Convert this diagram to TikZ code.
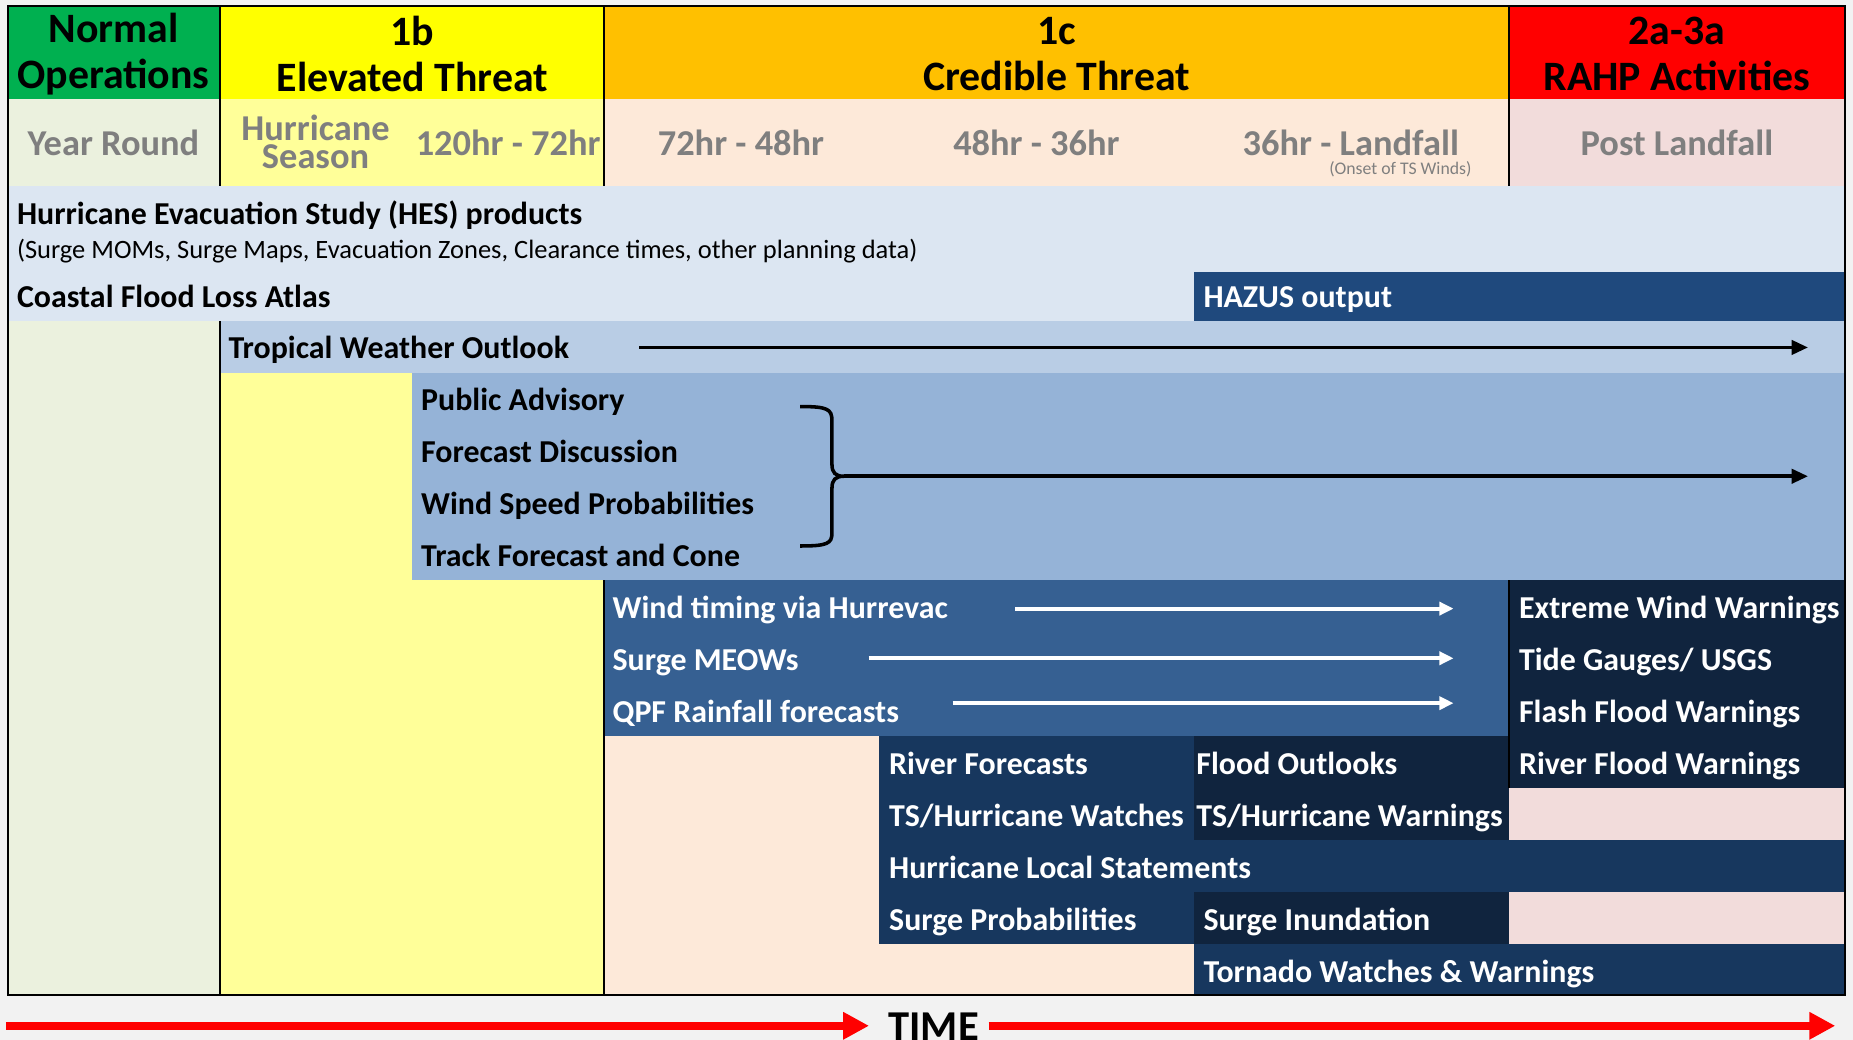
\documentclass[tikz,border=0pt]{standalone}
\usepackage{fontspec}
\setmainfont{Carlito}
\usetikzlibrary{calc, positioning, arrows.meta}

\definecolor{opsgreen}{HTML}{00B050}
\definecolor{opsgreenlt}{HTML}{EBF1DE}
\definecolor{elevyellow}{HTML}{FFFF00}
\definecolor{elevyellowlt}{HTML}{FFFF99}
\definecolor{credorange}{HTML}{FFC000}
\definecolor{credorangelt}{HTML}{FDE9D9}
\definecolor{rahpred}{HTML}{FF0000}
\definecolor{rahpredlt}{HTML}{F2DCDB}
\definecolor{hesblue}{HTML}{DCE6F2}
\definecolor{twoblue}{HTML}{B9CDE5}
\definecolor{advblue}{HTML}{95B3D7}
\definecolor{midblue}{HTML}{366092}
\definecolor{hazblue}{HTML}{1F497D}
\definecolor{deepblue}{HTML}{17375E}
\definecolor{nightblue}{HTML}{10243E}
\definecolor{subgray}{HTML}{7F7F7F}
\definecolor{backgray}{HTML}{F2F2F2}

\begin{document}
\begin{tikzpicture}[
	x=0.5pt, y=-0.5pt,
	headtext/.style={align=center, inner sep=0pt, font=\fontsize{17.7}{19.5}\selectfont\bfseries},
	subtext/.style={align=center, inner sep=0pt, text=subgray, font=\fontsize{15.4}{11.5}\selectfont\bfseries},
	rowtext/.style={anchor=west, inner sep=0pt, yshift=-1.7pt, text height=1.5ex, text depth=.3ex, font=\fontsize{13.5}{15}\selectfont\bfseries},
	lighttext/.style={rowtext, text=white},
	gridline/.style={line width=0.9pt, black},
	darkarrow/.style={-{Triangle[length=7pt, width=6pt]}, line width=1.6pt, black},
	lightarrow/.style={-{Triangle[length=6pt, width=5.5pt]}, line width=1.6pt, white},
	timearrow/.style={-{Triangle[length=11pt, width=11pt]}, line width=3.5pt, color=rahpred}
	]
	
	% Page and column backgrounds
	\fill [backgray] (0,0) rectangle (1568,880);
	\useasboundingbox (0,0) rectangle (1568,880);
	\fill [opsgreenlt] (7,84) rectangle (186,842);
	\fill [elevyellowlt] (186,84) rectangle (511,842);
	\fill [credorangelt] (511,84) rectangle (1277,842);
	\fill [rahpredlt] (1277,84) rectangle (1561,842);
	
	% Stage headers
	\fill [opsgreen] (7,5) rectangle (186,84);
	\fill [elevyellow] (186,5) rectangle (511,84);
	\fill [credorange] (511,5) rectangle (1277,84);
	\fill [rahpred] (1277,5) rectangle (1561,84);
	
	% Product bands
	\fill [hesblue] (7,157) rectangle (1561,272);
	\fill [hazblue] (1010,230) rectangle (1561,272);
	\fill [twoblue] (186,272) rectangle (1561,316);
	\fill [advblue] (349,316) rectangle (1561,491);
	\fill [midblue] (511,491) rectangle (1277,623);
	\fill [nightblue] (1277,491) rectangle (1561,667);
	\fill [deepblue] (744,623) rectangle (1010,711);
	\fill [nightblue] (1010,623) rectangle (1277,711);
	\fill [deepblue] (744,711) rectangle (1561,755);
	\fill [deepblue] (744,755) rectangle (1010,799);
	\fill [nightblue] (1010,755) rectangle (1277,799);
	\fill [deepblue] (1010,799) rectangle (1561,842);
	
	% Grid lines
	\draw [gridline] (7,5) rectangle (1561,842);
	\draw [gridline] (186,5) -- (186,157) (186,272) -- (186,842);
	\draw [gridline] (511,5) -- (511,157) (511,491) -- (511,842);
	\draw [gridline] (1277,5) -- (1277,157) (1277,491) -- (1277,667);
	
	% Header texts
	\node (hdrnormal) [headtext] at (96,46) {Normal\\Operations};
	\node (hdrelev) [headtext] at (349,46) {1b\\Elevated Threat};
	\node (hdrcred) [headtext] at (894,46) {1c\\Credible Threat};
	\node (hdrrahp) [headtext] at (1419,46) {2a-3a\\RAHP Activities};
	
	\node (subyear) [subtext] at (96,121) {Year Round};
	\node (subseason) [subtext] at (267,120) {Hurricane\\Season};
	\node (sub120) [subtext] at (430,121) {120hr - 72hr};
	\node (sub72) [subtext] at (627,121) {72hr - 48hr};
	\node (sub48) [subtext] at (877,121) {48hr - 36hr};
	\node (sub36) [subtext] at (1143,121) {36hr - Landfall};
	\node (subonset) [subtext, font=\fontsize{7.5}{8}\selectfont] at (1185,143) {(Onset of TS Winds)};
	\node (subpost) [subtext] at (1419,121) {Post Landfall};
	
	% Row texts
	\node (hes) [rowtext] at (14,181) {Hurricane Evacuation Study (HES) products};
	\node (hesnote) [rowtext, font=\fontsize{11.2}{13}\selectfont] at (14,210) {(Surge MOMs, Surge Maps, Evacuation Zones, Clearance times, other planning data)};
	\node (atlas) [rowtext] at (14,251) {Coastal Flood Loss Atlas};
	\node (hazus) [lighttext] at (1018,251) {HAZUS output};
	\node (two) [rowtext] at (193,294) {Tropical Weather Outlook};
	\node (advisory) [rowtext] at (356,338) {Public Advisory};
	\node (discussion) [rowtext] at (356,382) {Forecast Discussion};
	\node (windprob) [rowtext] at (356,426) {Wind Speed Probabilities};
	\node (track) [rowtext] at (356,470) {Track Forecast and Cone};
	\node (hurrevac) [lighttext] at (518,514) {Wind timing via Hurrevac};
	\node (meows) [lighttext] at (518,558) {Surge MEOWs};
	\node (qpf) [lighttext] at (518,602) {QPF Rainfall forecasts};
	\node (extwind) [lighttext] at (1285,514) {Extreme Wind Warnings};
	\node (tide) [lighttext] at (1285,558) {Tide Gauges/ USGS};
	\node (flash) [lighttext] at (1285,602) {Flash Flood Warnings};
	\node (riverflood) [lighttext] at (1285,646) {River Flood Warnings};
	\node (riverfc) [lighttext] at (752,646) {River Forecasts};
	\node (floodout) [lighttext] at (1012,646) {Flood Outlooks};
	\node (tswatch) [lighttext] at (752,690) {TS/Hurricane Watches};
	\node (tswarn) [lighttext] at (1012,690) {TS/Hurricane Warnings};
	\node (hls) [lighttext] at (752,734) {Hurricane Local Statements};
	\node (surgeprob) [lighttext] at (752,778) {Surge Probabilities};
	\node (inundation) [lighttext] at (1018,778) {Surge Inundation};
	\node (tornado) [lighttext] at (1018,822) {Tornado Watches \& Warnings};
	
	% Arrows
	\coordinate (twostart) at (541,294);
	\coordinate (twoend) at (1530,294);
	\draw [darkarrow] (twostart) -- (twoend);
	
	\coordinate (bracetip) at (714,403);
	\coordinate (advend) at (1530,403);
	\draw [line width=1.5pt] (677,344) .. controls (700,344) and (704,346) .. (704,356) -- (704,393)
		.. controls (704,400) and (707,403) .. (bracetip)
		.. controls (707,403) and (704,406) .. (704,413) -- (704,451)
		.. controls (704,460) and (700,462) .. (677,462);
	\draw [darkarrow] (bracetip) -- (advend);
	
	\coordinate (hurrevacgo) at (859,515);
	\coordinate (meowsgo) at (735,557);
	\coordinate (qpfgo) at (806,595);
	\coordinate (hurrevacend) at (1230,515);
	\coordinate (meowsend) at (1230,557);
	\coordinate (qpfend) at (1230,595);
	\draw [lightarrow] (hurrevacgo) -- (hurrevacend);
	\draw [lightarrow] (meowsgo) -- (meowsend);
	\draw [lightarrow] (qpfgo) -- (qpfend);
	
	% Time axis
	\node (time) [inner sep=0pt, font=\fontsize{18}{20}\selectfont\bfseries] at (790,869) {TIME};
	\coordinate (timestart) at (5,868);
	\coordinate (timeend) at (1553,868);
	\draw [timearrow] (timestart) -- ([xshift=-8pt]time.west |- timestart);
	\draw [timearrow] ([xshift=4pt]time.east |- timestart) -- (timeend);
	
\end{tikzpicture}
\end{document}
